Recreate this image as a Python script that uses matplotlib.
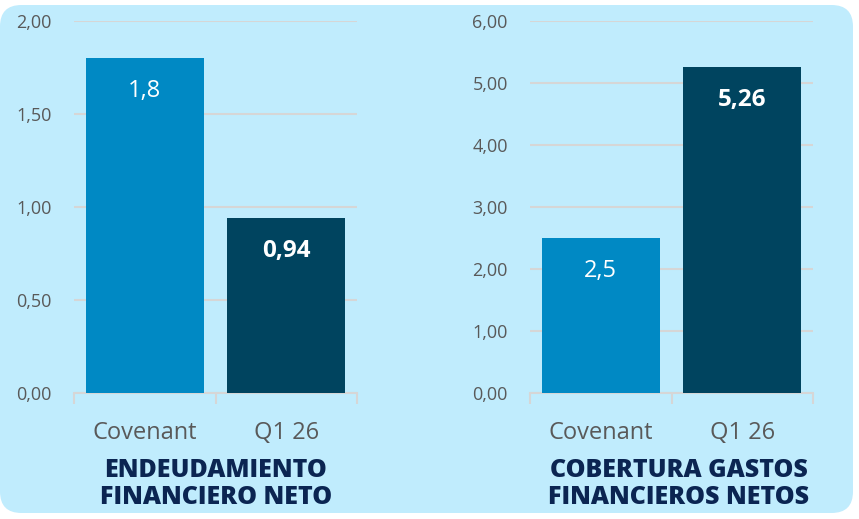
import matplotlib
matplotlib.use("Agg")
import matplotlib.pyplot as plt
from matplotlib.patches import FancyBboxPatch
from matplotlib.ticker import FixedLocator, FuncFormatter

categories = ["Covenant", "Q1 26"]
left_values = [1.8, 0.94]
right_values = [2.5, 5.26]
left_labels = ["1,8", "0,94"]
right_labels = ["2,5", "5,26"]
left_ticks = [0.0, 0.5, 1.0, 1.5, 2.0]
right_ticks = [0, 1, 2, 3, 4, 5, 6]
left_title = "ENDEUDAMIENTO\nFINANCIERO NETO"
right_title = "COBERTURA GASTOS\nFINANCIEROS NETOS"

bar_colors = ["#0089C4", "#00445F"]
bg = "#C0ECFD"
grid_c = "#D6D6D6"
tick_c = "#595959"
title_c = "#0B2552"
FONT = "Open Sans"

W, H = 859, 519
fig = plt.figure(figsize=(W / 100, H / 100), dpi=100)
fig.patch.set_facecolor("white")
fig.patches.append(FancyBboxPatch((0.0 / W, 6 / H), 853 / W, 508 / H,
                                  boxstyle="round,pad=0,rounding_size=0.025",
                                  transform=fig.transFigure, facecolor=bg,
                                  edgecolor="none", zorder=-5,
                                  mutation_aspect=W / H))

def fmt(v, _):
    return f"{v:.2f}".replace(".", ",")

def panel(x0px, values, labels, ticks, ymax, title, title_cx):
    ax = fig.add_axes([x0px / W, 1 - 393 / H, 283 / W, 372 / H])
    ax.set_facecolor("none")
    x = list(range(len(categories)))
    ax.bar(x, values, width=0.834, color=bar_colors, zorder=3)
    ax.set_xlim(-0.5, 1.5)
    ax.set_ylim(0, ymax)
    ax.yaxis.set_major_locator(FixedLocator(ticks))
    ax.yaxis.set_major_formatter(FuncFormatter(fmt))
    ax.grid(axis="y", color=grid_c, linewidth=1.5, zorder=1)
    ax.set_axisbelow(True)
    for s in ["left", "right", "top"]:
        ax.spines[s].set_visible(False)
    ax.spines["bottom"].set_color(grid_c)
    ax.spines["bottom"].set_linewidth(1.5)
    ax.tick_params(axis="y", length=0, pad=16, labelsize=13, labelcolor=tick_c)
    for t in ax.get_yticklabels():
        t.set_fontfamily(FONT)
    ax.set_xticks(x)
    ax.set_xticklabels(categories, fontsize=17, color=tick_c, fontfamily=FONT)
    ax.tick_params(axis="x", which="major", length=0, pad=20)
    ax.set_xticks([-0.5, 0.5, 1.5], minor=True)
    ax.tick_params(axis="x", which="minor", length=8, width=1.5, color=grid_c)
    offs = ymax * 33 / 372
    for i, (v, lab) in enumerate(zip(values, labels)):
        ax.text(i, v - offs, lab, ha="center", va="center", color="white",
                fontsize=17 if i == 0 else 17.5, fontfamily=FONT,
                fontweight="bold" if i == 1 else "normal", zorder=4)
    fig.text(title_cx / W, 1 - 484 / H, title, ha="center", va="center",
             fontsize=18, fontweight="heavy", color=title_c, fontfamily=FONT,
             linespacing=1.08)
    return ax

panel(74, left_values, left_labels, left_ticks, 2.0, left_title, 216)
panel(530, right_values, right_labels, right_ticks, 6.0, right_title, 679)

fig.savefig("out.png", dpi=100)
